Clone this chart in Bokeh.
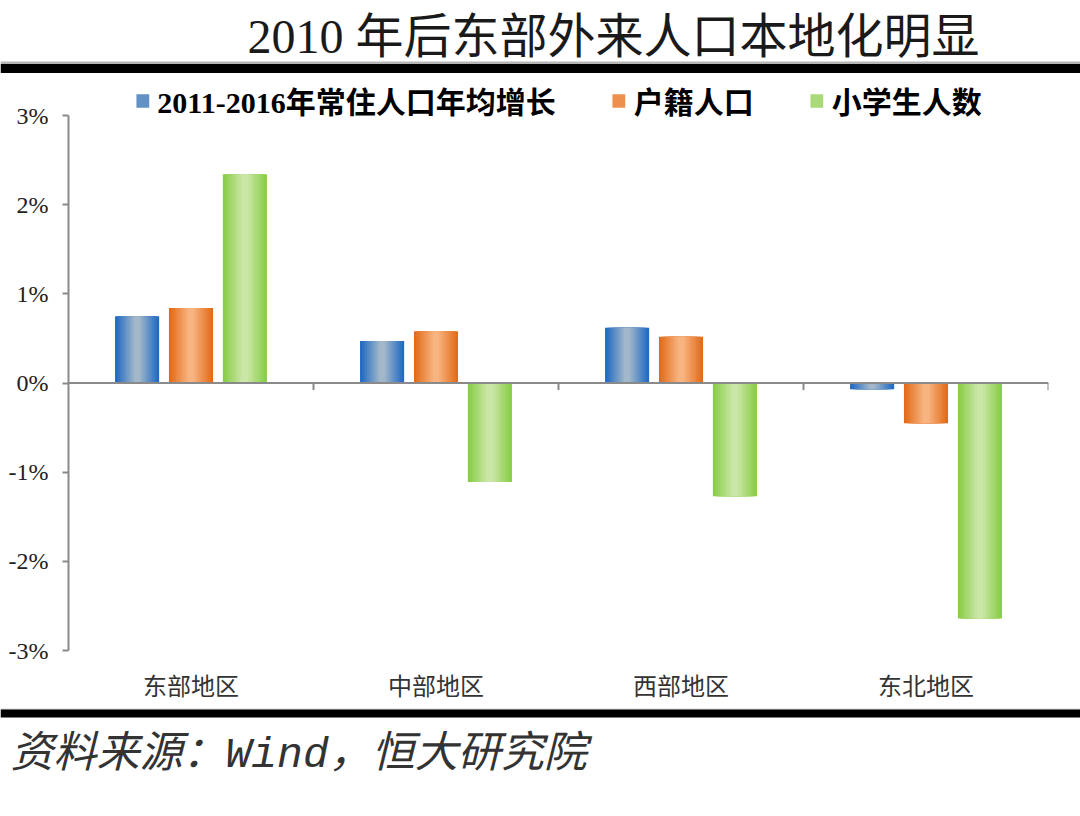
from bokeh.plotting import figure
from bokeh.layouts import column
from bokeh.models import (FactorRange, Range1d, ColumnDataSource, FixedTicker, Span,
                          Legend, LegendItem, PrintfTickFormatter)
from bokeh.transform import dodge
from bokeh.core.properties import value
from bokeh.embed import file_html
from bokeh.resources import INLINE

# ---------------- data ----------------
categories = ["东部地区", "中部地区", "西部地区", "东北地区"]
series_names = ["2011-2016年常住人口年均增长", "户籍人口", "小学生人数"]
resident_growth = [0.75, 0.47, 0.62, -0.07]
hukou_growth = [0.84, 0.58, 0.52, -0.45]
pupil_growth = [2.34, -1.11, -1.27, -2.64]
y_ticks = [-3, -2, -1, 0, 1, 2, 3]

title_text = "2010 年后东部外来人口本地化明显"
source_text = "资料来源：Wind，恒大研究院"

# ---------------- styling ----------------
edge_colors = [(0x22, 0x6a, 0xc2), (0xe2, 0x6c, 0x1a), (0x8a, 0xcd, 0x48)]
center_colors = [(0xa2, 0xb8, 0xca), (0xf8, 0xb4, 0x80), (0xcb, 0xe7, 0xa8)]
offsets = [-0.22, 0.0, 0.22]
bar_w = 0.18
CJK = "Noto Sans CJK SC"
SERIF_CJK = "Liberation Serif, Noto Sans CJK SC"
W = 1080


def blank_fig(h):
    f = figure(width=W, height=h, output_backend="svg", toolbar_location=None,
               x_range=Range1d(0, W), y_range=Range1d(h, 0),
               min_border=0, min_border_left=0, min_border_right=0,
               min_border_top=0, min_border_bottom=0, frame_align=False)
    f.axis.visible = False
    f.grid.visible = False
    f.outline_line_color = None
    f.background_fill_color = "white"
    f.border_fill_color = "white"
    return f


# ---------------- top strip: title and rule ----------------
HA = 76
top = blank_fig(HA)
top.text(x=[613], y=[36], text=[title_text], text_font=value(SERIF_CJK),
         text_font_size="48px", text_color="#1a1a1a", text_align="center",
         text_baseline="middle")
top.quad(left=[0, 0], right=[W, W], top=[61, 63.5], bottom=[63.5, 72.5],
         fill_color=["#b5b5b5", "black"], line_color=None)

# ---------------- main chart ----------------
HB = 632
page_top_b = HA
frame_top_page = 78          # top of frame (legend row)
y3_page, ym3_page = 115, 650  # pixel rows of 3% and -3%
px_per_unit = (ym3_page - y3_page) / 6.0
y_top = 3 + (y3_page - frame_top_page) / px_per_unit

p = figure(width=W, height=HB, output_backend="svg", toolbar_location=None,
           x_range=FactorRange(factors=categories, range_padding=0),
           y_range=Range1d(-3, y_top), frame_align=False,
           min_border_left=68, min_border_right=W - 1048,
           min_border_top=frame_top_page - page_top_b,
           min_border_bottom=page_top_b + HB - ym3_page)
p.outline_line_color = None
p.xgrid.grid_line_color = None
p.ygrid.grid_line_color = None
p.background_fill_color = "white"
p.border_fill_color = "white"

ya = p.yaxis[0]
ya.ticker = FixedTicker(ticks=y_ticks)
ya.formatter = PrintfTickFormatter(format="%d%%")
ya.bounds = (-3, 3)
ya.axis_line_color = "#8a8a8a"
ya.axis_line_width = 2
ya.major_tick_line_color = "#8a8a8a"
ya.major_tick_line_width = 2
ya.major_tick_out = 6
ya.major_tick_in = 0
ya.minor_tick_line_color = None
ya.major_label_text_font = "Liberation Serif"
ya.major_label_text_font_size = "24px"
ya.major_label_text_color = "#222222"
ya.major_label_standoff = 14

xa = p.xaxis[0]
xa.axis_line_color = None
xa.major_tick_line_color = None
xa.minor_tick_line_color = None
xa.major_label_text_font = CJK
xa.major_label_text_font_size = "24px"
xa.major_label_text_color = "#333333"
xa.major_label_standoff = 10

p.add_layout(Span(location=0, dimension="width", line_color="#8a8a8a", line_width=2))
tick_src = ColumnDataSource(dict(cat=categories, y0=[0] * len(categories),
                                 y1=[-0.08] * len(categories)))
p.segment(x0=dodge("cat", 0.5, range=p.x_range), x1=dodge("cat", 0.5, range=p.x_range),
          y0="y0", y1="y1", source=tick_src, line_color="#8a8a8a", line_width=2)

series_vals = [resident_growth, hukou_growth, pupil_growth]
N = 9
legend_renderers = []
for j, vals in enumerate(series_vals):
    src = ColumnDataSource(dict(cat=categories, val=vals))
    e, c = edge_colors[j], center_colors[j]
    for k in range(N):
        t = k / (N - 1)
        col = tuple(int(round(e[i] + (c[i] - e[i]) * t)) for i in range(3))
        w = bar_w * (1 - 0.85 * t)
        r = p.vbar(x=dodge("cat", offsets[j], range=p.x_range), top="val", bottom=0,
                   width=w, source=src, fill_color="#%02x%02x%02x" % col, line_color=None)
        if k == N // 2:
            legend_renderers.append(r)

legend = Legend(items=[LegendItem(label=series_names[j], renderers=[legend_renderers[j]])
                       for j in range(3)],
                orientation="horizontal", location="top_center",
                glyph_width=16, glyph_height=17, label_height=30, label_standoff=7,
                spacing=55, padding=0, margin=0,
                border_line_color=None, background_fill_alpha=0,
                label_text_font=SERIF_CJK, label_text_font_style="bold",
                label_text_font_size="30px", label_text_color="black")
p.add_layout(legend, "center")

# ---------------- bottom strip: rule and source ----------------
HC = 100
bot = blank_fig(HC)
bot.quad(left=[0, 0], right=[W, W], top=[0, 1], bottom=[1, 9],
         fill_color=["#b5b5b5", "black"], line_color=None)
bot.text(x=[10], y=[47], text=[source_text], text_font=value("Liberation Mono, Noto Sans CJK SC"),
         text_font_style="italic", text_font_size="43px", text_color="#333333",
         text_align="left", text_baseline="middle")

layout = column(top, p, bot, spacing=0)
open("out.html", "w").write(file_html(layout, INLINE))
